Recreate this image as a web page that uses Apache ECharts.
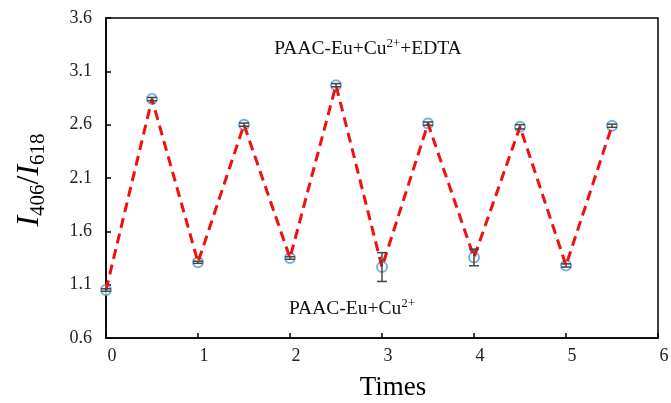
<!DOCTYPE html>
<html><head><meta charset="utf-8">
<script src="https://cdn.jsdelivr.net/npm/echarts@6/dist/echarts.min.js"></script>
<style>html,body{margin:0;padding:0;background:#fff}#c{width:671px;height:403px}</style>
</head><body><div id="c"></div>
<script>
var times = [0, 0.5, 1, 1.5, 2, 2.5, 3, 3.5, 4, 4.5, 5, 5.5];
var ratio = [1.05, 2.84, 1.31, 2.60, 1.35, 2.97, 1.265, 2.61, 1.355, 2.58, 1.28, 2.59];
var errs = [0.012, 0.015, 0.01, 0.015, 0.012, 0.015, 0.135, 0.015, 0.078, 0.02, 0.015, 0.015];
var yTicks = [0.6, 1.1, 1.6, 2.1, 2.6, 3.1, 3.6];
var xTicks = [0, 1, 2, 3, 4, 5, 6];

var pts = times.map(function (t, i) { return [t, ratio[i]]; });
var errData = times.map(function (t, i) { return [t, ratio[i] - errs[i], ratio[i] + errs[i]]; });
var font = '"Liberation Serif", "Times New Roman", serif';

var chart = echarts.init(document.getElementById('c'));
chart.setOption({
  animation: false,
  grid: { left: 106, right: 13, top: 18, bottom: 65, outerBoundsMode: 'none', containLabel: false,
    show: true, borderColor: '#000', borderWidth: 1.5, backgroundColor: 'transparent' },
  xAxis: {
    type: 'value', min: 0, max: 6, interval: 1,
    axisLine: { lineStyle: { color: '#000', width: 1.5 } },
    axisTick: { inside: true, length: 5, lineStyle: { color: '#000', width: 1.5 }, customValues: xTicks },
    axisLabel: { color: '#222', fontFamily: font, fontSize: 18, margin: 9, padding: [0, 0, 0, 12], customValues: xTicks },
    splitLine: { show: false }
  },
  yAxis: {
    type: 'value', min: 0.6, max: 3.6,
    axisLine: { lineStyle: { color: '#000', width: 1.5 } },
    axisTick: { inside: true, length: 5, lineStyle: { color: '#000', width: 1.5 }, customValues: yTicks },
    axisLabel: { color: '#222', fontFamily: font, fontSize: 18, margin: 14, padding: [3, 0, 0, 0], customValues: yTicks,
      formatter: function (v) { return v.toFixed(1); } },
    splitLine: { show: false }
  },
  graphic: [
    {
      type: 'text', x: 393, y: 388,
      style: { text: 'Times', align: 'center', verticalAlign: 'middle', font: '27px ' + font, fill: '#000' }
    },
    {
      type: 'text', x: 30, y: 180, rotation: Math.PI / 2,
      style: {
        text: '{i|I}{s|406}{n|/}{i|I}{s|618}',
        align: 'center', verticalAlign: 'middle',
        rich: {
          i: { fontFamily: font, fontStyle: 'italic', fontSize: 32, fill: '#000', verticalAlign: 'middle' },
          n: { fontFamily: font, fontSize: 32, fill: '#000', verticalAlign: 'middle' },
          s: { fontFamily: font, fontSize: 21, fill: '#000', verticalAlign: 'bottom', padding: [17, 0, 0, 0] }
        }
      }
    },
    {
      type: 'text', x: 368, y: 49,
      style: {
        text: 'PAAC-Eu+Cu{sup|2+}+EDTA',
        align: 'center', verticalAlign: 'middle',
        font: '19.5px ' + font, fill: '#111',
        rich: { sup: { fontFamily: font, fontSize: 13, fill: '#111', verticalAlign: 'top', padding: [0, 0, 10, 0] } }
      }
    },
    {
      type: 'text', x: 352, y: 309,
      style: {
        text: 'PAAC-Eu+Cu{sup|2+}',
        align: 'center', verticalAlign: 'middle',
        font: '19.5px ' + font, fill: '#111',
        rich: { sup: { fontFamily: font, fontSize: 13, fill: '#111', verticalAlign: 'top', padding: [0, 0, 10, 0] } }
      }
    }
  ],
  series: [
    {
      type: 'scatter', data: pts, symbol: 'emptyCircle', symbolSize: 10, z: 1,
      itemStyle: { color: '#5b9bd5', borderColor: '#5b9bd5', borderWidth: 1.5 }
    },
    {
      type: 'line', data: pts, showSymbol: false, z: 2,
      lineStyle: { color: '#f01010', width: 3, type: [10, 6] }
    },
    {
      type: 'custom', z: 3, data: errData,
      renderItem: function (params, api) {
        var x = api.value(0);
        var lo = api.coord([x, api.value(1)]);
        var hi = api.coord([x, api.value(2)]);
        var w = 5;
        var st = { stroke: '#444', lineWidth: 1.5 };
        return {
          type: 'group', children: [
            { type: 'line', shape: { x1: lo[0], y1: lo[1], x2: hi[0], y2: hi[1] }, style: st },
            { type: 'line', shape: { x1: lo[0] - w, y1: lo[1], x2: lo[0] + w, y2: lo[1] }, style: st },
            { type: 'line', shape: { x1: hi[0] - w, y1: hi[1], x2: hi[0] + w, y2: hi[1] }, style: st }
          ]
        };
      }
    }
  ]
});
</script></body></html>
